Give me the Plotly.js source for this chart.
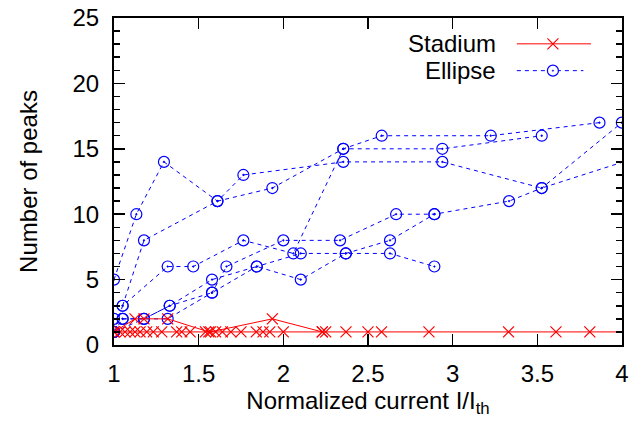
<!DOCTYPE html>
<html>
<head>
<meta charset="utf-8">
<script src="https://cdn.plot.ly/plotly-3.0.1.min.js"></script>
<style>
  html, body { margin: 0; padding: 0; background: #fff; }
  #chart { width: 637px; height: 423px; }
</style>
</head>
<body>
<div id="chart"></div>
<script>
// ---------------- data ----------------
// Stadium runs (red, solid, crosses)
const stadiumX1 = [1.0, 1.035, 1.065, 1.095, 1.124, 1.154, 1.193, 1.232, 1.282, 1.37, 1.40, 1.45, 1.54, 1.60, 1.64, 1.69, 1.75, 1.84, 1.88, 1.92, 2.0, 2.23, 2.25, 2.37, 2.50, 2.58, 2.86, 3.33, 3.61, 3.81, 4.3];
const stadiumY1 = [1, 1, 1, 1, 1, 1, 1, 1, 1, 1, 1, 1, 1, 1, 1, 1, 1, 1, 1, 1, 1, 1, 1, 1, 1, 1, 1, 1, 1, 1, 1];
const stadiumX2 = [1.0, 1.124, 1.177, 1.317, 1.56];
const stadiumY2 = [1, 2, 2, 2, 1];
const stadiumX3 = [1.57, 1.935, 2.23];
const stadiumY3 = [1, 2, 1];

// Ellipse runs (blue, dashed, open circles)
const ellipseX1 = [1.0, 1.132, 1.295, 1.611, 1.764, 2.354, 2.939, 3.526, 4.25];
const ellipseY1 = [5, 10, 14, 11, 13, 14, 14, 12, 15];
const ellipseX2 = [1.051, 1.177, 1.611, 1.935, 2.354, 2.939, 3.526];
const ellipseY2 = [3, 8, 11, 12, 15, 15, 16];
const ellipseX3 = [1.0, 1.051, 1.317, 1.468, 1.764, 2.059, 2.354, 2.581, 3.225, 3.867];
const ellipseY3 = [1, 3, 6, 6, 8, 7, 15, 16, 16, 17];
const ellipseX4 = [1.0, 1.177, 1.329, 1.579, 1.843, 2.103, 2.369, 2.63, 2.892];
const ellipseY4 = [1, 2, 3, 5, 6, 5, 7, 8, 10];
const ellipseX5 = [1.0, 1.051, 1.317, 1.579, 1.664, 2.0, 2.335, 2.666, 2.892, 3.333, 3.526, 3.999];
const ellipseY5 = [2, 2, 2, 4, 6, 8, 8, 10, 10, 11, 12, 17];
const ellipseX6 = [1.0, 1.051, 1.177, 1.329, 1.579, 1.843, 2.103, 2.369, 2.63, 2.892];
const ellipseY6 = [1, 2, 2, 3, 4, 6, 7, 7, 7, 6];

const seriesNames = ['Stadium', 'Ellipse'];
const xTickVals = [1, 1.5, 2, 2.5, 3, 3.5, 4];
const xTickText = ['1', '1.5', '2', '2.5', '3', '3.5', '4'];
const yTickVals = [0, 5, 10, 15, 20, 25];

// ---------------- styles ----------------
const RED = 'rgb(255,0,0)';
const BLUE = 'rgb(0,0,255)';
const FONT = 'Liberation Sans, Arial, Helvetica, sans-serif';
const FS = 24;

function stadiumTrace(x, y) {
  return {
    x: x, y: y, type: 'scatter', mode: 'lines+markers',
    name: seriesNames[0], showlegend: false,
    line: { color: RED, width: 1 },
    marker: { symbol: 'x-thin-open', size: 11, color: RED, line: { color: RED, width: 1.2 } },
    hoverinfo: 'x+y'
  };
}
function ellipseTrace(x, y) {
  return {
    x: x, y: y, type: 'scatter', mode: 'lines+markers',
    name: seriesNames[1], showlegend: false,
    line: { color: BLUE, width: 1, dash: '4px,4px' },
    marker: { symbol: 'circle-open-dot', size: 11, color: BLUE, line: { color: BLUE, width: 1.2 } },
    hoverinfo: 'x+y'
  };
}

const data = [
  ellipseTrace(ellipseX1, ellipseY1),
  ellipseTrace(ellipseX2, ellipseY2),
  ellipseTrace(ellipseX3, ellipseY3),
  ellipseTrace(ellipseX4, ellipseY4),
  ellipseTrace(ellipseX5, ellipseY5),
  ellipseTrace(ellipseX6, ellipseY6),
  stadiumTrace(stadiumX1, stadiumY1),
  stadiumTrace(stadiumX2, stadiumY2),
  stadiumTrace(stadiumX3, stadiumY3)
];

// legend drawn gnuplot-style (text, then sample)
const legX = 0.864, legText = 0.756, legL = 0.793, legR = 0.939;
const legY1 = 0.921, legY2 = 0.839;
const shapes = [
  { type: 'line', xref: 'paper', yref: 'paper', x0: legL, x1: legR, y0: legY1, y1: legY1, line: { color: RED, width: 1 } },
  { type: 'line', xref: 'paper', yref: 'paper', xsizemode: 'pixel', ysizemode: 'pixel', xanchor: legX, yanchor: legY1, x0: -5.5, x1: 5.5, y0: -5.5, y1: 5.5, line: { color: RED, width: 1.2 } },
  { type: 'line', xref: 'paper', yref: 'paper', xsizemode: 'pixel', ysizemode: 'pixel', xanchor: legX, yanchor: legY1, x0: -5.5, x1: 5.5, y0: 5.5, y1: -5.5, line: { color: RED, width: 1.2 } },
  { type: 'line', xref: 'paper', yref: 'paper', x0: legL, x1: legR - 0.015, y0: legY2, y1: legY2, line: { color: BLUE, width: 1, dash: '4px,4px' } },
  { type: 'circle', xref: 'paper', yref: 'paper', xsizemode: 'pixel', ysizemode: 'pixel', xanchor: legX, yanchor: legY2, x0: -5.5, x1: 5.5, y0: -5.5, y1: 5.5, fillcolor: 'white', line: { color: BLUE, width: 1.2 } },
  { type: 'circle', xref: 'paper', yref: 'paper', xsizemode: 'pixel', ysizemode: 'pixel', xanchor: legX, yanchor: legY2, x0: -0.7, x1: 0.7, y0: -0.7, y1: 0.7, fillcolor: BLUE, line: { color: BLUE, width: 0.5 } }
];
const annotations = [
  { xref: 'paper', yref: 'paper', x: legText, y: legY1, xanchor: 'right', yanchor: 'middle', text: seriesNames[0], showarrow: false, font: { family: FONT, size: FS, color: '#000' } },
  { xref: 'paper', yref: 'paper', x: legText, y: legY2, xanchor: 'right', yanchor: 'middle', text: seriesNames[1], showarrow: false, font: { family: FONT, size: FS, color: '#000' } }
];

const axisCommon = {
  showline: true, linecolor: '#000', linewidth: 2, mirror: 'ticks',
  ticks: 'inside', ticklen: 11, tickwidth: 1.5, tickcolor: '#000',
  showgrid: false, zeroline: false,
  tickfont: { family: FONT, size: FS, color: '#000' }
};

const layout = {
  width: 637, height: 423,
  margin: { l: 114, r: 15, t: 18, b: 78, pad: 0 },
  paper_bgcolor: '#fff', plot_bgcolor: '#fff',
  showlegend: false,
  font: { family: FONT, color: '#000' },
  xaxis: Object.assign({}, axisCommon, {
    range: [1, 4], tickvals: xTickVals, ticktext: xTickText,
    ticklabelstandoff: 6,
    title: { text: 'Normalized current I/I<sub>th</sub>', font: { family: FONT, size: FS, color: '#000' }, standoff: 6 }
  }),
  yaxis: Object.assign({}, axisCommon, {
    range: [0, 25], tickvals: yTickVals,
    ticklabelstandoff: 8,
    minor: { dtick: 1, ticks: 'inside', ticklen: 6, tickwidth: 1.5, tickcolor: '#000', showgrid: false },
    title: { text: 'Number of peaks', font: { family: FONT, size: FS, color: '#000' }, standoff: 28 }
  }),
  shapes: shapes,
  annotations: annotations
};

Plotly.newPlot('chart', data, layout, { displayModeBar: false, staticPlot: true });
</script>
</body>
</html>
